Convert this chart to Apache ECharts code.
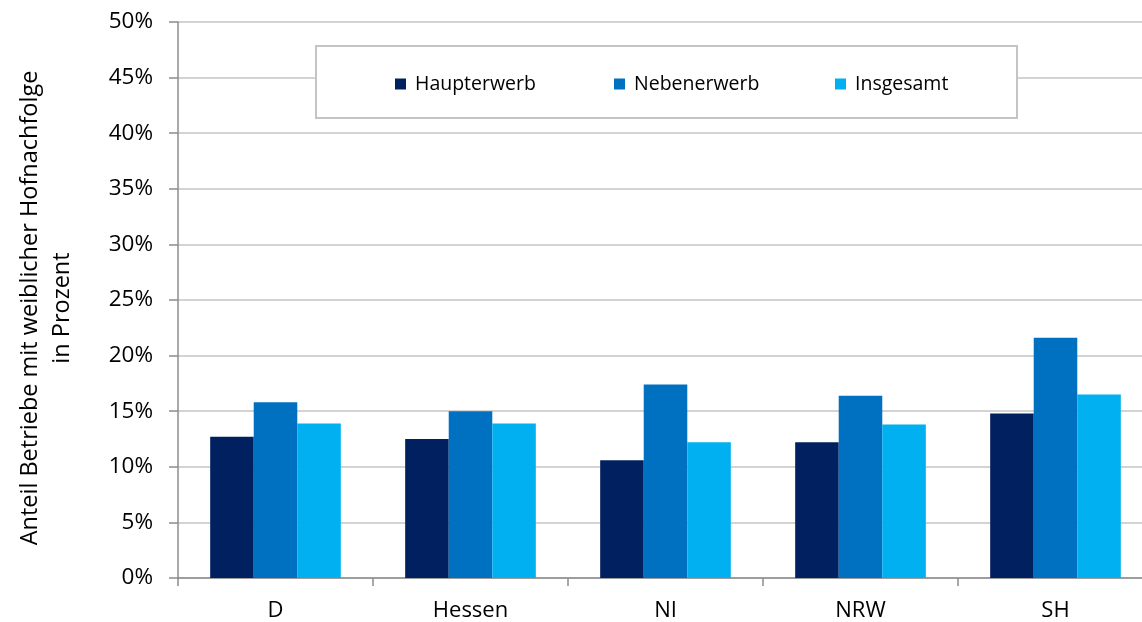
<!DOCTYPE html>
<html>
<head>
<meta charset="utf-8">
<script src="https://cdn.jsdelivr.net/npm/echarts@6/dist/echarts.min.js"></script>
<style>
html,body{margin:0;padding:0;background:#fff;overflow:hidden;width:1142px;height:622px;}
#chart{width:1170px;height:622px;}
</style>
</head>
<body>
<div id="chart"></div>
<script>
var categories = ['D', 'Hessen', 'NI', 'NRW', 'SH'];
var seriesNames = ['Haupterwerb', 'Nebenerwerb', 'Insgesamt'];
var haupterwerb = [12.7, 12.5, 10.6, 12.2, 14.8];
var nebenerwerb = [15.8, 15.0, 17.4, 16.4, 21.6];
var insgesamt = [13.9, 13.9, 12.2, 13.8, 16.5];
var yTicks = [0, 5, 10, 15, 20, 25, 30, 35, 40, 45, 50];
var yTitle = 'Anteil Betriebe mit weiblicher Hofnachfolge\nin Prozent';

var colors = ['#002060', '#0070C0', '#00B0F0'];
var FONT = 'Open Sans';
var chart = echarts.init(document.getElementById('chart'));

function legendFor(i, left) {
  return {
    data: [seriesNames[i]],
    left: left, top: 74,
    icon: 'rect', itemWidth: 11, itemHeight: 11, itemGap: 0,
    padding: 0,
    selectedMode: false,
    z: 10,
    textStyle: { fontFamily: FONT, fontSize: 19.5, color: '#000', padding: [0, 0, 0, 4] }
  };
}

var option = {
  animation: false,
  backgroundColor: '#fff',
  grid: { left: 178, top: 22, width: 975, height: 557, containLabel: false },
  graphic: [{
    type: 'rect', z: 5,
    shape: { x: 316, y: 46, width: 701, height: 72 },
    style: { fill: '#fff', stroke: '#c4c4c4', lineWidth: 2 }
  }],
  legend: [legendFor(0, 395), legendFor(1, 614), legendFor(2, 835)],
  xAxis: {
    type: 'category',
    data: categories,
    axisLine: { lineStyle: { color: '#8c8c8c', width: 1.5 } },
    axisTick: { show: true, length: 8, lineStyle: { color: '#8c8c8c', width: 1.5 } },
    axisLabel: { fontFamily: FONT, fontSize: 22, color: '#000', margin: 22 }
  },
  yAxis: {
    type: 'value',
    min: 0, max: 50, interval: 5,
    name: yTitle,
    nameLocation: 'middle',
    nameRotate: 90,
    nameGap: 100,
    nameTextStyle: { fontFamily: FONT, fontSize: 23.5, color: '#000', lineHeight: 32, align: 'center', padding: [0, 16, 0, 0] },
    axisLine: { show: true, lineStyle: { color: '#8c8c8c', width: 1.5 } },
    axisTick: { show: true, length: 9, lineStyle: { color: '#8c8c8c', width: 1.5 } },
    splitLine: { lineStyle: { color: '#c4c4c4', width: 1.5 } },
    axisLabel: {
      fontFamily: FONT, fontSize: 22.5, color: '#000', margin: 25,
      formatter: function (v) { return yTicks.indexOf(v) >= 0 ? v + '%' : ''; }
    }
  },
  series: [
    { name: seriesNames[0], type: 'bar', data: haupterwerb, itemStyle: { color: colors[0] }, barGap: '0%', barCategoryGap: '33%' },
    { name: seriesNames[1], type: 'bar', data: nebenerwerb, itemStyle: { color: colors[1] }, barGap: '0%', barCategoryGap: '33%' },
    { name: seriesNames[2], type: 'bar', data: insgesamt, itemStyle: { color: colors[2] }, barGap: '0%', barCategoryGap: '33%' }
  ]
};
chart.setOption(option);
</script>
</body>
</html>
